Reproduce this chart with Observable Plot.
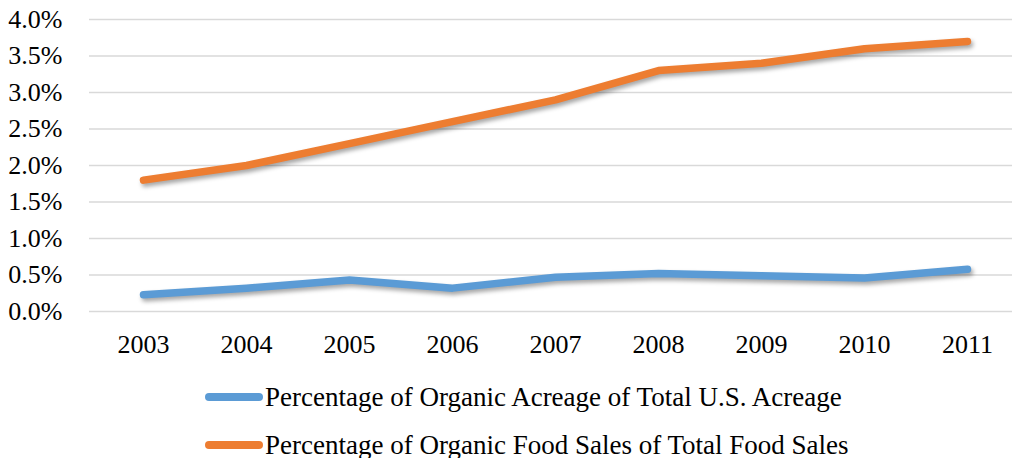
<!DOCTYPE html>
<html>
<head>
<meta charset="utf-8">
<script src="https://cdn.jsdelivr.net/npm/d3@7"></script>
<script src="https://cdn.jsdelivr.net/npm/@observablehq/plot@0.6"></script>
<style>
  body { margin: 0; background: #fff; font-family: "Liberation Serif", "Times New Roman", serif; }
  #chart svg { display: block; }
  #chart svg text { font-family: "Liberation Serif", "Times New Roman", serif; }
  .lines path { filter: drop-shadow(2px 3px 2px rgba(0,0,0,0.35)); }
  .legend { padding-left: 205px; margin-top: 8px; font-size: 27px; color: #000; }
  .legend .row { display: flex; align-items: center; height: 48px; }
  .legend .sw { display: inline-block; width: 58px; height: 7.5px; border-radius: 4px; margin-right: 2px; }
</style>
</head>
<body>
<div id="chart"></div>
<div class="legend" id="legend"></div>
<script>
const years = ["2003","2004","2005","2006","2007","2008","2009","2010","2011"];
const acreage = [0.23, 0.32, 0.43, 0.32, 0.47, 0.52, 0.49, 0.46, 0.58];
const sales = [1.8, 2.0, 2.3, 2.6, 2.9, 3.3, 3.4, 3.6, 3.7];
const seriesNames = ["Percentage of Organic Acreage of Total U.S. Acreage", "Percentage of Organic Food Sales of Total Food Sales"];
const seriesColors = ["#5B9BD5", "#ED7D31"];
const yTicks = [0, 0.5, 1, 1.5, 2, 2.5, 3, 3.5, 4];

const data = [];
years.forEach((y, i) => {
  data.push({year: y, value: acreage[i], series: seriesNames[0]});
  data.push({year: y, value: sales[i], series: seriesNames[1]});
});

const chart = Plot.plot({
  width: 1012,
  height: 365,
  marginLeft: 89,
  marginRight: 0,
  marginTop: 19,
  marginBottom: 54,
  style: {fontFamily: "'Liberation Serif', 'Times New Roman', serif", fontSize: "26px", color: "#000", background: "#fff"},
  x: {type: "point", domain: years, range: [89.5, 1019.5], padding: 0.5, label: null, tickSize: 0, tickPadding: 23},
  y: {domain: [0, 4], ticks: yTicks, tickFormat: d => d.toFixed(1) + "%", label: null, tickSize: 0, tickPadding: 27},
  color: {domain: seriesNames, range: seriesColors},
  marks: [
    Plot.ruleY(yTicks, {stroke: "#D9D9D9", strokeWidth: 1.5}),
    Plot.line(data, {x: "year", y: "value", z: "series", stroke: "series", strokeWidth: 7.5, strokeLinecap: "round", strokeLinejoin: "round", className: "lines"})
  ]
});
document.getElementById("chart").appendChild(chart);

const legend = document.getElementById("legend");
seriesNames.forEach((n, i) => {
  const row = document.createElement("div");
  row.className = "row";
  const sw = document.createElement("span");
  sw.className = "sw";
  sw.style.background = seriesColors[i];
  const t = document.createElement("span");
  t.textContent = n;
  row.appendChild(sw);
  row.appendChild(t);
  legend.appendChild(row);
});
</script>
</body>
</html>
